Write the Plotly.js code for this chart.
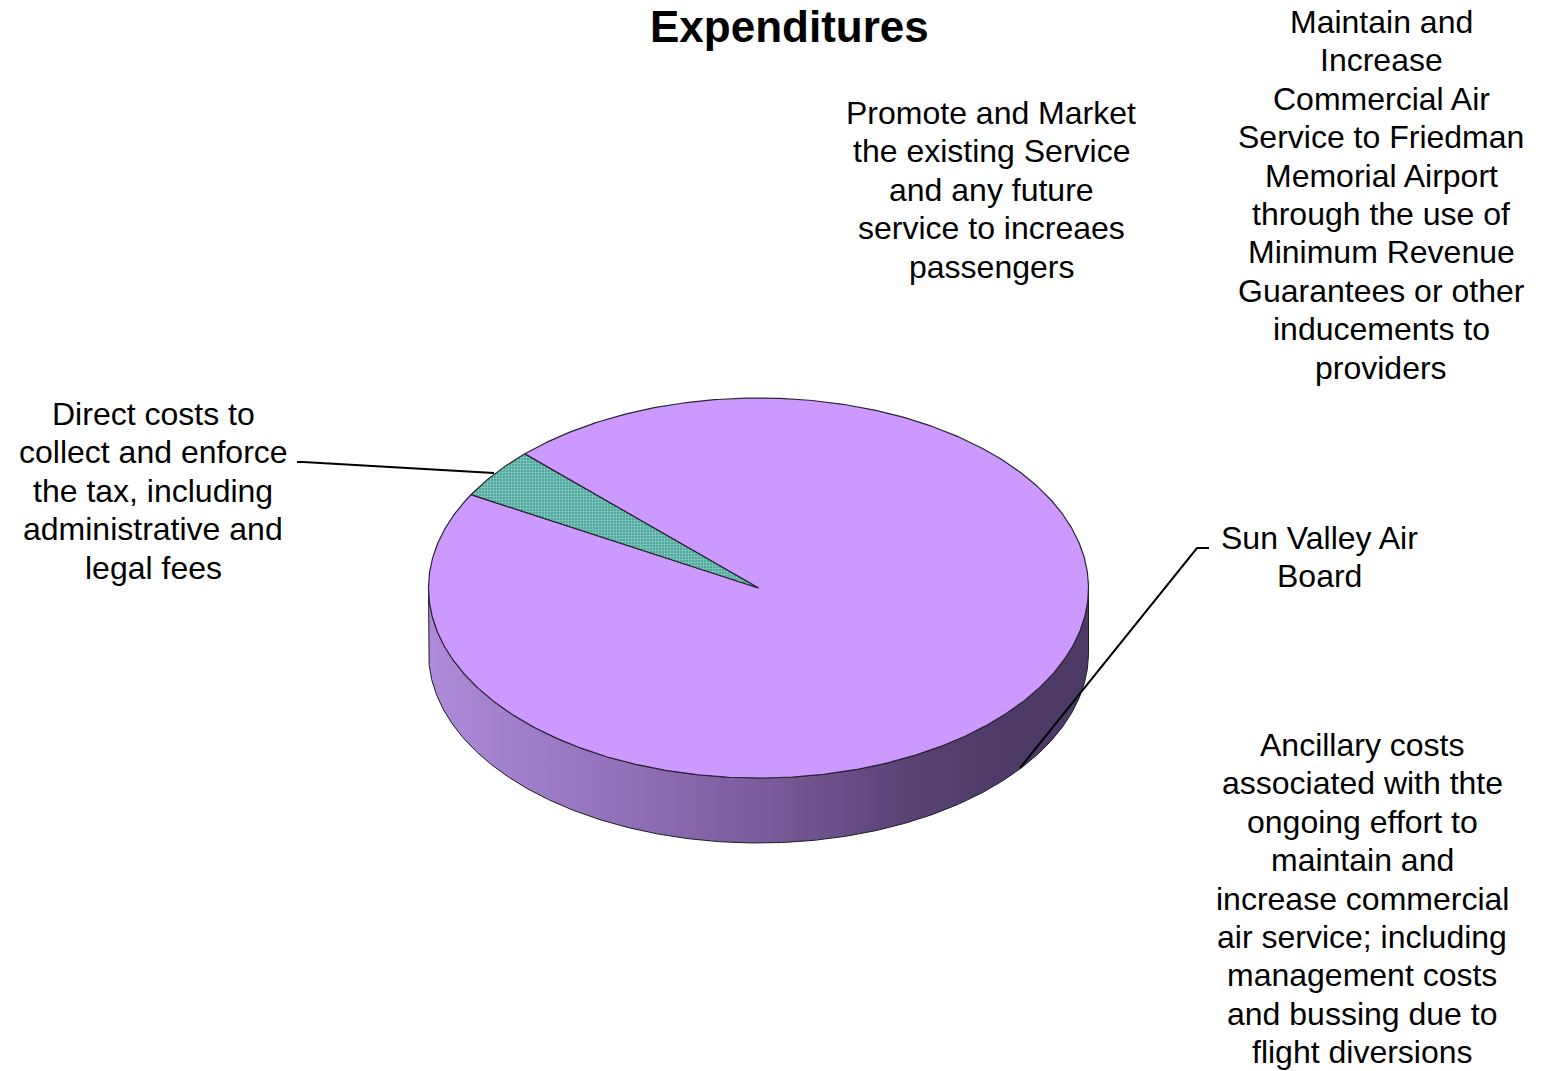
<!DOCTYPE html>
<html>
<head>
<meta charset="utf-8">
<script src="https://cdn.plot.ly/plotly-3.0.1.min.js"></script>
<style>html,body{margin:0;padding:0;background:#fff;overflow:hidden}</style>
</head>
<body>
<div id="chart" style="width:1543px;height:1071px"></div>
<script>
// ---- data ----
const chartTitle = "Expenditures";
const categories = [
  "Maintain and Increase Commercial Air Service to Friedman Memorial Airport through the use of Minimum Revenue Guarantees or other inducements to providers",
  "Promote and Market the existing Service and any future service to increaes passengers",
  "Sun Valley Air Board",
  "Ancillary costs associated with thte ongoing effort to maintain and increase commercial air service; including management costs and bussing due to flight diversions",
  "Direct costs to collect and enforce the tax, including administrative and legal fees"
];
const values = [95.7, 0, 0, 0, 4.3];
const labelLines = [
  ["Maintain and","Increase","Commercial Air","Service to Friedman","Memorial Airport","through the use of","Minimum Revenue","Guarantees or other","inducements to","providers"],
  ["Promote and Market","the existing Service","and any future","service to increaes","passengers"],
  ["Sun Valley Air","Board"],
  ["Ancillary costs","associated with thte","ongoing effort to","maintain and","increase commercial","air service; including","management costs","and bussing due to","flight diversions"],
  ["Direct costs to","collect and enforce","the tax, including","administrative and","legal fees"]
];

// ---- styling / layout constants ----
const topColors = ["#CC99FF","#CC99FF","#CC99FF","#CC99FF","#5AB0A6"];
const labelAnchor = [[1381,22],[991,113],[1319,538],[1362,745],[153,414]];
const lineStep = 38.4;
const W = 1543, H = 1071;
const cx = 758.5, cy = 588, rx = 330, ry = 190, depth = 65;
const startAngle = 314.9; // degrees clockwise from 12 o'clock
const FONT = "'Liberation Sans', Arial, sans-serif";

function pt(phiDeg, dz) {
  const p = phiDeg * Math.PI / 180;
  return [cx + rx * Math.sin(p), cy - ry * Math.cos(p) + (dz || 0)];
}
function arc(a0, a1, dz) {
  const pts = [];
  const n = Math.max(2, Math.ceil(Math.abs(a1 - a0) / 0.5));
  for (let i = 0; i <= n; i++) pts.push(pt(a0 + (a1 - a0) * i / n, dz));
  return pts;
}

const total = values.reduce((a, b) => a + b, 0);
const slices = [];
let acc = startAngle;
values.forEach((v, i) => {
  const a0 = acc, a1 = acc + 360 * v / total;
  acc = a1;
  if (v > 0) slices.push({i, a0, a1});
});

const traces = [];
// sides (front half only: 90..270 deg)
slices.forEach(s => {
  for (let k = -360; k <= 720; k += 360) {
    const lo = Math.max(s.a0, 90 + k), hi = Math.min(s.a1, 270 + k);
    if (hi > lo) {
      const top = arc(lo, hi, 0), bot = arc(hi, lo, depth);
      const all = top.concat(bot); all.push(top[0]);
      traces.push({
        type: "scatter", mode: "lines", x: all.map(p => p[0]), y: all.map(p => p[1]),
        fill: "toself", line: {color: "#1e1a26", width: 1},
        fillgradient: {type: "horizontal", start: cx - rx, stop: cx + rx,
          colorscale: [[0, "#AD8BD9"], [0.25, "#9575BE"], [0.5, "#7A5C9B"], [0.72, "#5A4476"], [0.85, "#4F3B67"], [1, "#4D3965"]]},
        hoverinfo: "skip", showlegend: false
      });
    }
  }
});
// top faces
slices.forEach(s => {
  const pts = [[cx, cy]].concat(arc(s.a0, s.a1, 0));
  pts.push([cx, cy]);
  const tr = {
    type: "scatter", mode: "lines", x: pts.map(p => p[0]), y: pts.map(p => p[1]),
    fill: "toself", fillcolor: topColors[s.i], line: {color: "#2a2433", width: 1.2},
    hoverinfo: "skip", showlegend: false, name: categories[s.i]
  };
  if (s.i === 4) {
    tr.fillpattern = {shape: "+", bgcolor: "#4FA89C", fgcolor: "#92D0C6", size: 3, solidity: 0.35};
  }
  traces.push(tr);
});

const annotations = [{
  x: 789, y: 26, xref: "x", yref: "y", text: "<b>" + chartTitle + "</b>", showarrow: false,
  xanchor: "center", yanchor: "middle", font: {family: FONT, size: 44, color: "#000"}
}];
labelLines.forEach((lines, i) => {
  lines.forEach((t, j) => {
    annotations.push({
      x: labelAnchor[i][0], y: labelAnchor[i][1] + j * lineStep, xref: "x", yref: "y",
      text: t, showarrow: false, xanchor: "center", yanchor: "middle",
      font: {family: FONT, size: 32, color: "#000"}
    });
  });
});

const shapes = [
  {type: "path", xref: "x", yref: "y", path: "M 297 462 L 303 462 L 494 473", line: {color: "#000", width: 2}},
  {type: "path", xref: "x", yref: "y", path: "M 1209 548 L 1197 548 L 1020 768", line: {color: "#000", width: 2}}
];

Plotly.newPlot("chart", traces, {
  width: W, height: H, margin: {l: 0, r: 0, t: 0, b: 0},
  paper_bgcolor: "#fff", plot_bgcolor: "#fff",
  xaxis: {range: [0, W], visible: false, fixedrange: true},
  yaxis: {range: [H, 0], visible: false, fixedrange: true},
  annotations: annotations, shapes: shapes, showlegend: false
}, {displayModeBar: false, staticPlot: true});
</script>
</body>
</html>
